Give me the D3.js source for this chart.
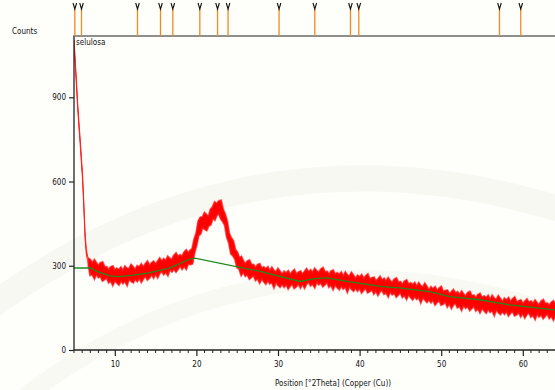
<!DOCTYPE html>
<html>
<head>
<meta charset="utf-8">
<script src="https://cdn.jsdelivr.net/npm/d3@7"></script>
<style>
  body { margin: 0; background: #fefefb; }
  svg text { font-family: "Liberation Sans Narrow", "DejaVu Sans Condensed", Arial, sans-serif; }
</style>
</head>
<body>
<svg id="graph" width="555" height="390"></svg>
<script>
// measured pattern: degree 2theta, upper / lower edge of the noisy trace (counts)
var theta = [5.0, 5.1, 5.2, 5.3, 5.45, 5.6, 5.75, 5.9, 6.05, 6.2, 6.35, 6.5, 6.65, 6.8,
  7.0, 7.25, 7.5, 7.75, 8.0, 8.25, 8.5, 8.75, 9.0, 9.25, 9.5, 9.75,
  10.0, 10.25, 10.5, 10.75, 11.0, 11.25, 11.5, 11.75, 12.0, 12.25, 12.5, 12.75,
  13.0, 13.25, 13.5, 13.75, 14.0, 14.25, 14.5, 14.75, 15.0, 15.25, 15.5, 15.75,
  16.0, 16.25, 16.5, 16.75, 17.0, 17.25, 17.5, 17.75, 18.0, 18.25, 18.5, 18.75,
  19.0, 19.25, 19.5, 19.75, 20.0, 20.25, 20.5, 20.75, 21.0, 21.25, 21.5, 21.75,
  22.0, 22.25, 22.5, 22.75, 23.0, 23.25, 23.5, 23.75, 24.0, 24.25, 24.5, 24.75,
  25.0, 25.25, 25.5, 25.75, 26.0, 26.25, 26.5, 26.75, 27.0, 27.25, 27.5, 27.75,
  28.0, 28.25, 28.5, 28.75, 29.0, 29.25, 29.5, 29.75, 30.0, 30.25, 30.5, 30.75,
  31.0, 31.25, 31.5, 31.75, 32.0, 32.25, 32.5, 32.75, 33.0, 33.25, 33.5, 33.75,
  34.0, 34.25, 34.5, 34.75, 35.0, 35.25, 35.5, 35.75, 36.0, 36.25, 36.5, 36.75,
  37.0, 37.25, 37.5, 37.75, 38.0, 38.25, 38.5, 38.75, 39.0, 39.25, 39.5, 39.75,
  40.0, 40.25, 40.5, 40.75, 41.0, 41.25, 41.5, 41.75, 42.0, 42.25, 42.5, 42.75,
  43.0, 43.25, 43.5, 43.75, 44.0, 44.25, 44.5, 44.75, 45.0, 45.25, 45.5, 45.75,
  46.0, 46.25, 46.5, 46.75, 47.0, 47.25, 47.5, 47.75, 48.0, 48.25, 48.5, 48.75,
  49.0, 49.25, 49.5, 49.75, 50.0, 50.25, 50.5, 50.75, 51.0, 51.25, 51.5, 51.75,
  52.0, 52.25, 52.5, 52.75, 53.0, 53.25, 53.5, 53.75, 54.0, 54.25, 54.5, 54.75,
  55.0, 55.25, 55.5, 55.75, 56.0, 56.25, 56.5, 56.75, 57.0, 57.25, 57.5, 57.75,
  58.0, 58.25, 58.5, 58.75, 59.0, 59.25, 59.5, 59.75, 60.0, 60.25, 60.5, 60.75,
  61.0, 61.25, 61.5, 61.75, 62.0, 62.25, 62.5, 62.75, 63.0, 63.25, 63.5, 63.75,
  64.0, 64.25, 64.5, 64.75];
var countHigh = [1105, 1060, 1010, 960, 880, 815, 755, 690, 625, 530, 420, 362, 335, 325,
  321, 309, 320, 309, 300, 310, 312, 295, 295, 284, 295, 298,
  283, 290, 285, 294, 281, 297, 290, 288, 303, 295, 285, 299,
  295, 305, 294, 306, 315, 300, 309, 315, 305, 315, 326, 316,
  324, 317, 332, 325, 321, 336, 344, 332, 338, 332, 347, 355,
  344, 355, 360, 394, 416, 459, 472, 472, 488, 481, 475, 501,
  509, 526, 520, 530, 532, 500, 484, 459, 415, 399, 388, 358,
  348, 328, 332, 316, 305, 316, 319, 303, 303, 292, 303, 306,
  290, 295, 288, 295, 280, 293, 282, 277, 289, 279, 267, 279,
  273, 281, 268, 278, 285, 269, 276, 280, 269, 278, 288, 277,
  284, 275, 289, 281, 275, 287, 292, 277, 279, 268, 280, 283,
  268, 274, 268, 276, 262, 276, 266, 262, 275, 265, 253, 265,
  259, 267, 253, 263, 269, 251, 256, 258, 245, 252, 261, 248,
  254, 244, 256, 246, 239, 251, 255, 240, 242, 232, 244, 248,
  233, 238, 232, 239, 225, 238, 228, 223, 236, 225, 212, 224,
  217, 224, 210, 219, 225, 206, 211, 212, 199, 206, 214, 201,
  206, 196, 208, 198, 191, 203, 207, 192, 194, 184, 196, 200,
  185, 191, 185, 193, 179, 193, 183, 179, 192, 182, 170, 183,
  177, 185, 171, 181, 187, 169, 174, 177, 164, 172, 180, 168,
  173, 164, 176, 167, 160, 173, 178, 164, 166, 157, 169, 174,
  159, 166, 160, 169];
var countLow = [1080, 1035, 990, 940, 860, 795, 735, 670, 605, 510, 400, 345, 318, 300,
  267, 270, 255, 272, 259, 263, 247, 252, 259, 241, 247, 232,
  248, 240, 233, 247, 238, 246, 232, 254, 246, 241, 253, 245,
  257, 243, 255, 264, 251, 258, 270, 258, 272, 259, 274, 282,
  270, 278, 267, 288, 280, 289, 279, 289, 302, 289, 299, 289,
  309, 305, 308, 347, 373, 408, 414, 438, 431, 427, 443, 447,
  471, 464, 481, 488, 468, 458, 445, 402, 382, 343, 336, 324,
  294, 289, 267, 279, 264, 269, 254, 260, 267, 249, 255, 240,
  255, 245, 236, 248, 237, 242, 224, 243, 232, 225, 235, 225,
  235, 219, 229, 236, 221, 227, 237, 223, 236, 222, 236, 243,
  230, 236, 224, 244, 234, 240, 227, 234, 243, 225, 232, 217,
  233, 224, 216, 229, 219, 225, 208, 228, 218, 211, 221, 211,
  221, 205, 214, 221, 205, 209, 217, 201, 212, 196, 209, 214,
  200, 205, 191, 209, 198, 204, 190, 197, 206, 189, 196, 182,
  198, 188, 180, 192, 182, 187, 170, 189, 179, 171, 180, 170,
  179, 162, 171, 177, 161, 164, 172, 155, 166, 150, 162, 167,
  152, 157, 143, 161, 150, 156, 142, 149, 158, 141, 148, 134,
  150, 141, 133, 146, 136, 142, 125, 145, 135, 128, 138, 129,
  139, 123, 132, 139, 123, 127, 135, 120, 131, 116, 128, 134,
  119, 125, 111, 130, 119, 126, 113, 121, 130, 114, 121, 108,
  124, 116, 108, 122];

// background line (green)
var bgTheta = [5.0, 7.0, 7.8, 9.4, 10.5, 12.0, 14.0, 16.7, 19.2, 19.8, 27.8, 32.7, 34.5, 36.0,
  38.8, 42.8, 44.9, 48.6, 51.0, 54.7, 58.4, 63.9, 65.0];
var bgCount = [292, 292, 280, 264, 261, 266, 274, 292, 324, 327, 280, 244, 254, 257,
  243, 226, 221, 208, 190, 179, 161, 143, 140];

// reference pattern peak markers
var peakTheta = [5.10, 5.92, 12.78, 15.60, 17.11, 20.42, 22.59, 23.88, 30.13, 34.51, 38.88, 39.90, 57.14, 59.75];

var yTicks = [0, 300, 600, 900];
var xMajor = [10, 20, 30, 40, 50, 60];
var xMinor = [5, 6, 7, 8, 9, 11, 12, 13, 14, 15, 16, 17, 18, 19, 21, 22, 23, 24, 25, 26, 27, 28, 29,
  31, 32, 33, 34, 35, 36, 37, 38, 39, 41, 42, 43, 44, 45, 46, 47, 48, 49, 51, 52, 53, 54, 55, 56, 57, 58, 59,
  61, 62, 63, 64];

var svg = d3.select("#graph");

var plotLeft = 74, plotBottom = 350, plotTop = 36;

var scX = d3.scaleLinear().domain([5, 65]).range([plotLeft, plotLeft + 60 * 8.16]);
var scY = d3.scaleLinear().domain([0, 900]).range([plotBottom, 97.3]);

// faint watermark arcs
var wm = svg.append("g").attr("fill", "none");
wm.append("path").attr("d", "M-40,330 Q260,90 620,230").attr("stroke", "#f8f8f3").attr("stroke-width", 26);
wm.append("path").attr("d", "M20,400 Q280,200 600,330").attr("stroke", "#f9f9f4").attr("stroke-width", 18);

svg.append("clipPath").attr("id", "plotclip").append("rect")
  .attr("x", plotLeft).attr("y", plotTop).attr("width", 555 - plotLeft).attr("height", plotBottom - plotTop);

var plot = svg.append("g").attr("clip-path", "url(#plotclip)");

var pts = theta.map((t, i) => [t, countLow[i], countHigh[i]]);
var steep = pts.slice(0, 15);   // thin falling edge at low angle
var noisy = pts.slice(13);      // noisy body of the pattern

var band = d3.area()
  .x(d => scX(d[0]))
  .y0(d => scY(d[1]))
  .y1(d => scY(d[2]));

plot.append("path").datum(steep).attr("d", band)
  .attr("fill", "#ff0000").attr("stroke", "#ff2020").attr("stroke-width", 1.0);

// light halo for the spike tips, then the dense core
plot.append("path").datum(noisy).attr("d", band)
  .attr("fill", "none").attr("stroke", "#ff7070").attr("stroke-width", 2.6);
plot.append("path").datum(noisy).attr("d", band)
  .attr("fill", "#ff0000").attr("stroke", "#ff1010").attr("stroke-width", 1.2);

var bgLine = d3.line().x(d => scX(d[0])).y(d => scY(d[1]));
plot.append("path").datum(bgTheta.map((t, i) => [t, bgCount[i]]))
  .attr("d", bgLine).attr("fill", "none").attr("stroke", "#1f8a1f").attr("stroke-width", 1.3);

// axes
var yAxis = d3.axisLeft(scY).tickValues(yTicks).tickSize(5).tickFormat(d3.format("d"));
var gy = svg.append("g").attr("transform", `translate(${plotLeft},0)`).call(yAxis);
gy.select(".domain").remove();
gy.append("line").attr("x1", 0).attr("x2", 0).attr("y1", plotTop).attr("y2", plotBottom)
  .attr("stroke", "#222").attr("stroke-width", 1.3);

var xAxis = d3.axisBottom(scX).tickValues(xMajor).tickSize(6).tickPadding(5);
var gx = svg.append("g").attr("transform", `translate(0,${plotBottom})`).call(xAxis);
gx.select(".domain").remove();
gx.append("line").attr("x1", plotLeft).attr("x2", 555).attr("y1", 0).attr("y2", 0)
  .attr("stroke", "#222").attr("stroke-width", 1.3);
gx.selectAll(".minor").data(xMinor).enter().append("line").attr("class", "minor")
  .attr("x1", d => scX(d)).attr("x2", d => scX(d)).attr("y1", 0).attr("y2", 3)
  .attr("stroke", "#222");

svg.selectAll(".tick line").attr("stroke", "#222").attr("stroke-width", 1.2);
svg.selectAll(".tick text").attr("font-size", 8).attr("fill", "#111")
  .attr("font-family", "Liberation Sans Narrow, DejaVu Sans Condensed, sans-serif");

// marker panel
svg.append("line").attr("x1", plotLeft - 1).attr("x2", 555).attr("y1", plotTop).attr("y2", plotTop)
  .attr("stroke", "#6a6a6a").attr("stroke-width", 1.6);

var mk = svg.selectAll(".mk").data(peakTheta).enter().append("g").attr("class", "mk")
  .attr("transform", d => `translate(${scX(d)},0)`);
mk.append("line").attr("y1", 9).attr("y2", plotTop).attr("stroke", "#f08a24").attr("stroke-width", 1.3);
mk.append("path").attr("d", "M-1.8,3 L0,9 L1.8,3").attr("fill", "none")
  .attr("stroke", "#111").attr("stroke-width", 1.1);

// labels
svg.append("text").attr("x", 12).attr("y", 34).attr("font-size", 8).attr("fill", "#111").text("Counts");
svg.append("text").attr("x", 76).attr("y", 45).attr("font-size", 8).attr("fill", "#111").text("selulosa");
svg.append("text").attr("x", 333).attr("y", 386).attr("text-anchor", "middle").attr("font-size", 8)
  .attr("fill", "#111").text("Position [°2Theta] (Copper (Cu))");
</script>
</body>
</html>
